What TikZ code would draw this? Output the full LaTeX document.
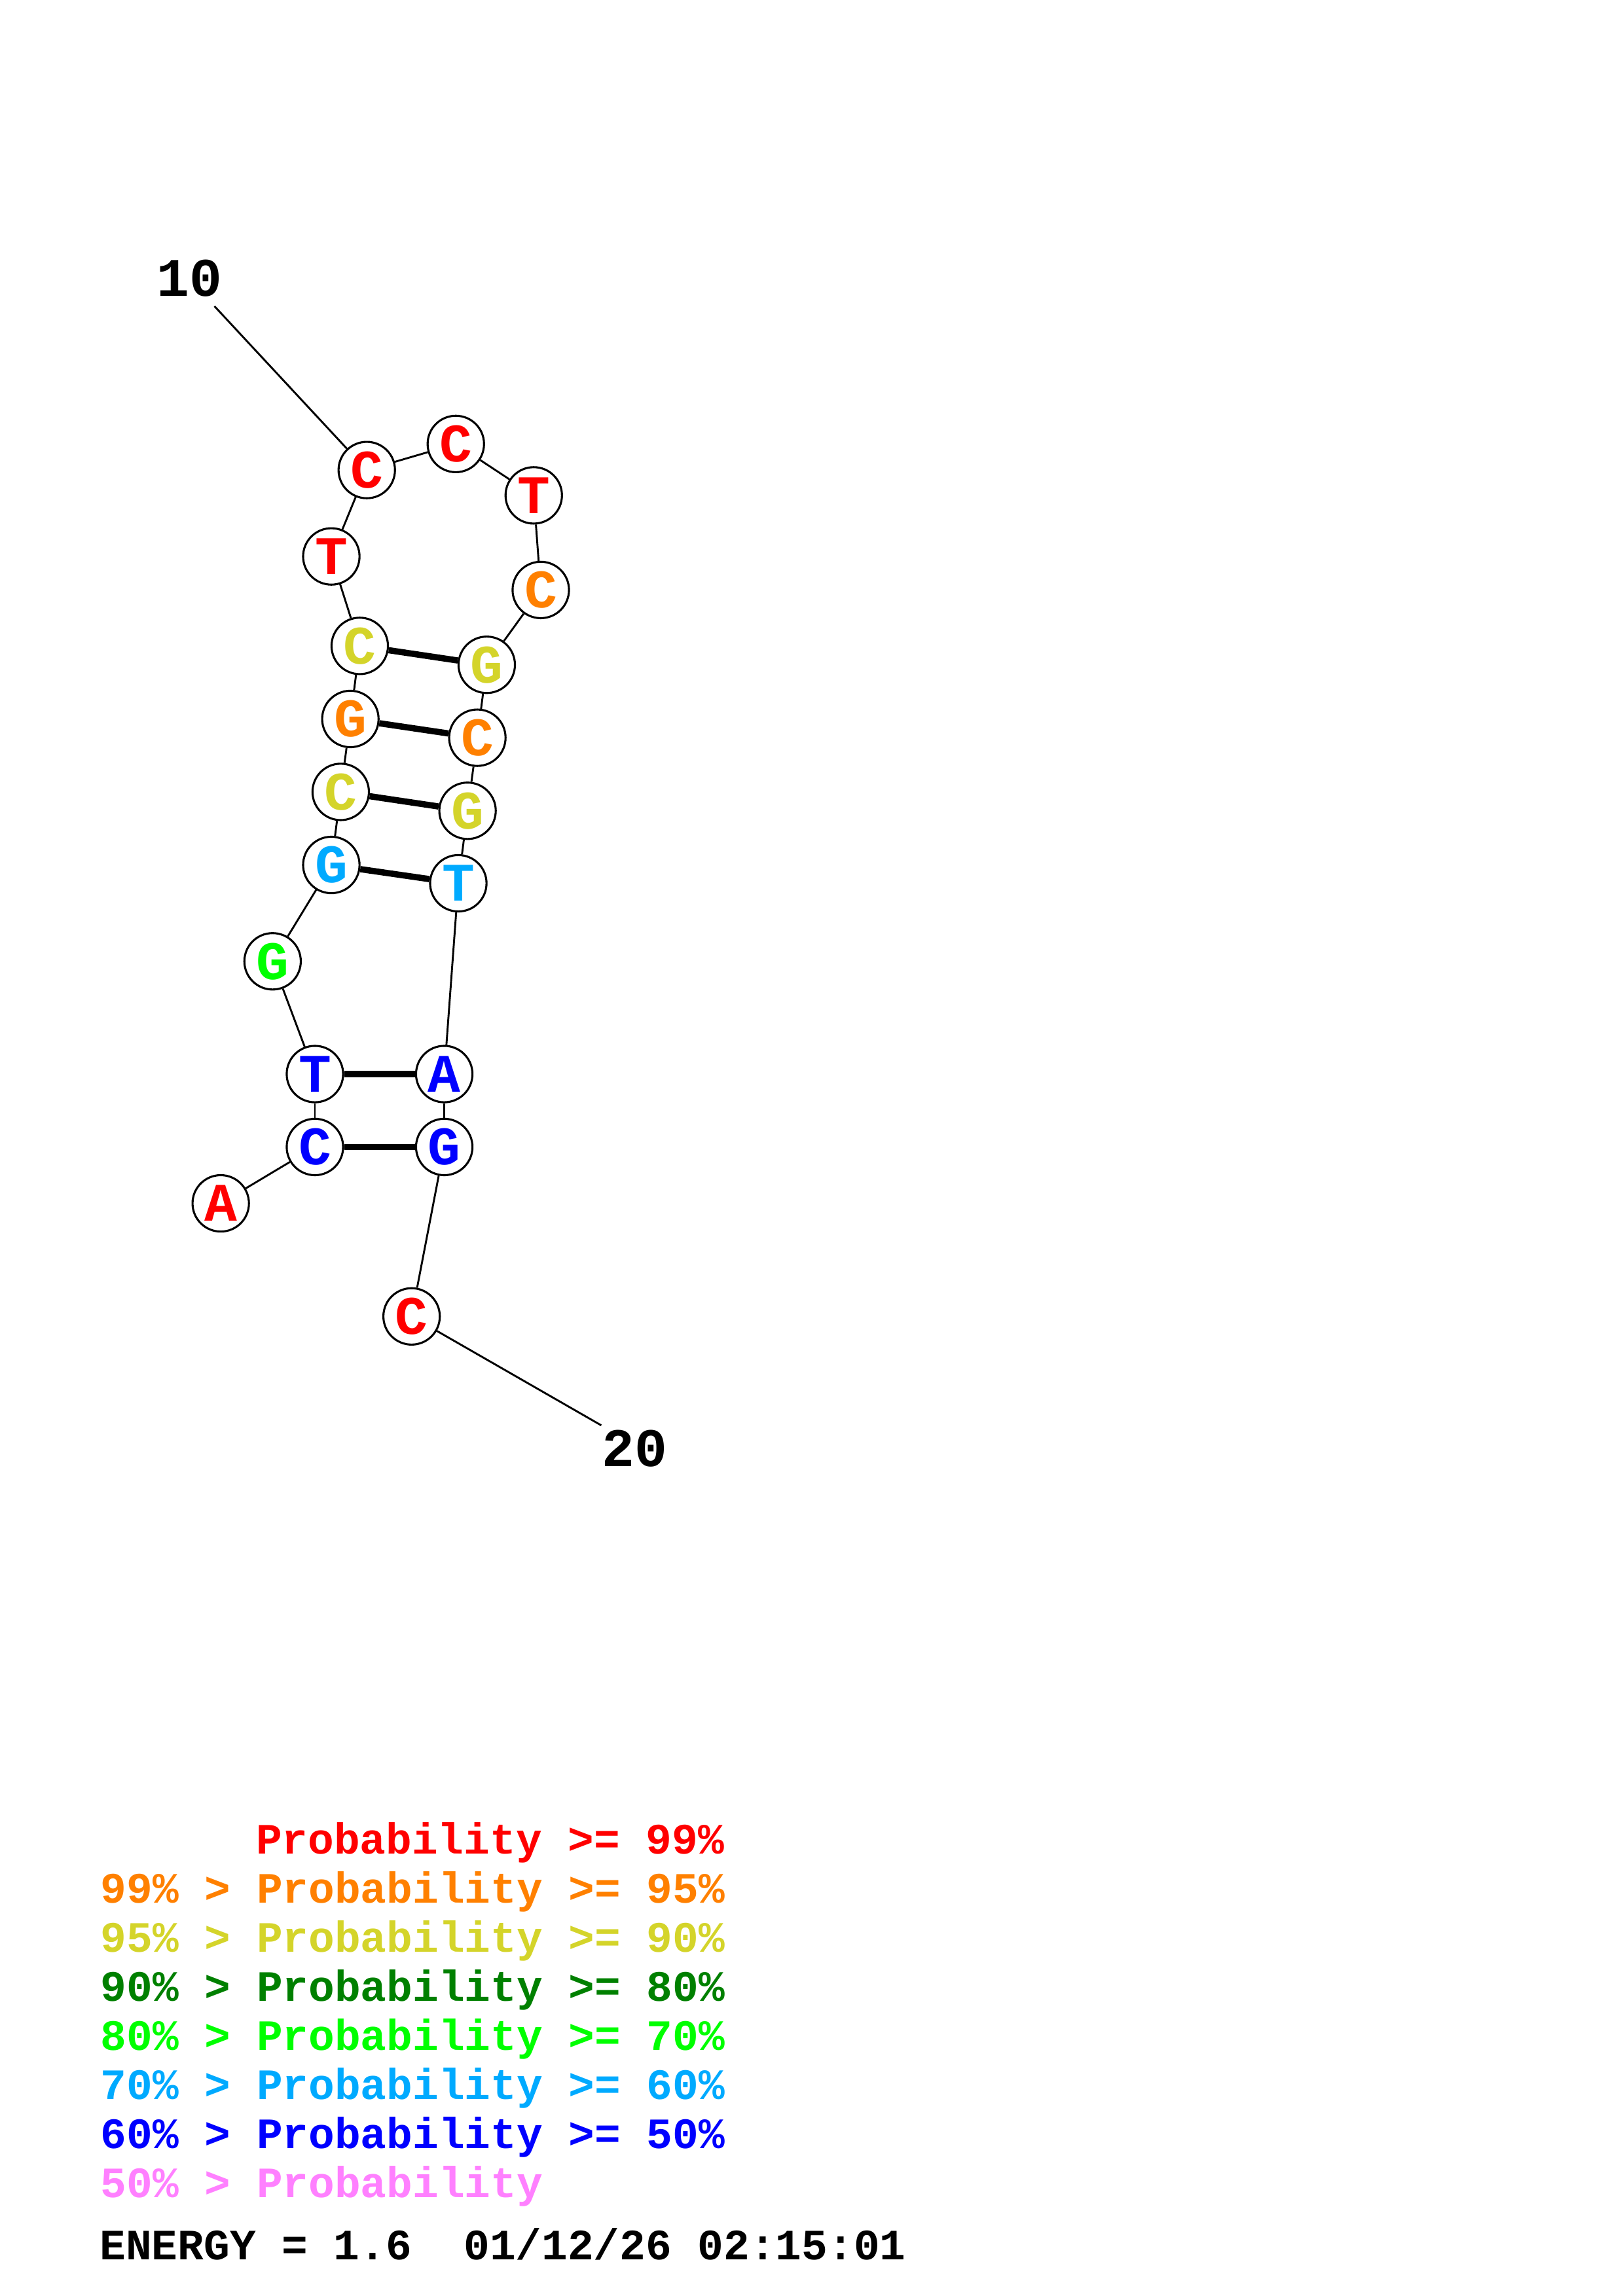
\documentclass[tikz,border=0pt]{standalone}
\usepackage{fontspec}
\usepackage{xcolor}
\newfontfamily\monofont{Liberation Mono}
\definecolor{pnine}{HTML}{FF0000}
\definecolor{pfive}{HTML}{FF8000}
\definecolor{pninety}{HTML}{D4D42A}
\definecolor{peighty}{HTML}{008000}
\definecolor{pseventy}{HTML}{00FF00}
\definecolor{psixty}{HTML}{00AAFF}
\definecolor{pfifty}{HTML}{0000FF}
\definecolor{plow}{HTML}{FF80FF}

\begin{document}
\begin{tikzpicture}[x=0.018953cm,y=-0.018953cm,
    base/.style={circle,draw,line width=0.75pt,fill=white,minimum size=0.73cm,inner sep=0pt,
                 font=\monofont\bfseries\fontsize{20}{20}\selectfont},
    backbone/.style={line width=0.7pt},
    pair/.style={line width=2.3pt},
    numlab/.style={font=\monofont\bfseries\fontsize{20}{20}\selectfont,inner sep=0pt},
    legend/.style={anchor=base west,inner sep=0pt,font=\monofont\bfseries\fontsize{15.95}{16}\selectfont}]

    \useasboundingbox (0,0) rectangle (1108,1568);

    % nucleotides
    \node[base,text=pnine]    (n1)  at (150.7,821.8) {A};
    \node[base,text=pfifty]   (n2)  at (215,783.3) {C};
    \node[base,text=pfifty]   (n3)  at (215,733.5) {T};
    \node[base,text=pseventy] (n4)  at (186.1,656.5) {G};
    \node[base,text=psixty]   (n5)  at (226.2,590.7) {G};
    \node[base,text=pninety]  (n6)  at (232.6,540.8) {C};
    \node[base,text=pfive]    (n7)  at (239.2,491) {G};
    \node[base,text=pninety]  (n8)  at (245.6,441.1) {C};
    \node[base,text=pnine]    (n9)  at (226.2,380) {T};
    \node[base,text=pnine]    (n10) at (250.4,321) {C};
    \node[base,text=pnine]    (n11) at (311.2,303.2) {C};
    \node[base,text=pnine]    (n12) at (364.4,338.3) {T};
    \node[base,text=pfive]    (n13) at (369.2,402.9) {C};
    \node[base,text=pninety]  (n14) at (332.3,454) {G};
    \node[base,text=pfive]    (n15) at (325.9,503.8) {C};
    \node[base,text=pninety]  (n16) at (319.2,553.7) {G};
    \node[base,text=psixty]   (n17) at (312.9,603.2) {T};
    \node[base,text=pfifty]   (n18) at (303.3,733.5) {A};
    \node[base,text=pfifty]   (n19) at (303.3,783.3) {G};
    \node[base,text=pnine]    (n20) at (281,899) {C};

    \node[numlab] (lab10) at (129.2,190) {10};
    \node[numlab] (lab20) at (433.3,989) {20};
    \coordinate (e10) at (146.4,209.1);
    \coordinate (e20) at (410.5,973.4);

    \draw[backbone] (n1) -- (n2);
    \draw[backbone] (n2) -- (n3);
    \draw[backbone] (n3) -- (n4);
    \draw[backbone] (n4) -- (n5);
    \draw[backbone] (n5) -- (n6);
    \draw[backbone] (n6) -- (n7);
    \draw[backbone] (n7) -- (n8);
    \draw[backbone] (n8) -- (n9);
    \draw[backbone] (n9) -- (n10);
    \draw[backbone] (n10) -- (n11);
    \draw[backbone] (n11) -- (n12);
    \draw[backbone] (n12) -- (n13);
    \draw[backbone] (n13) -- (n14);
    \draw[backbone] (n14) -- (n15);
    \draw[backbone] (n15) -- (n16);
    \draw[backbone] (n16) -- (n17);
    \draw[backbone] (n17) -- (n18);
    \draw[backbone] (n18) -- (n19);
    \draw[backbone] (n19) -- (n20);
    \draw[backbone] (e10) -- (n10);
    \draw[backbone] (n20) -- (e20);

    % base pairs
    \draw[pair] (n2) -- (n19);
    \draw[pair] (n3) -- (n18);
    \draw[pair] (n5) -- (n17);
    \draw[pair] (n6) -- (n16);
    \draw[pair] (n7) -- (n15);
    \draw[pair] (n8) -- (n14);

    % legend
    \node[legend,text=pnine]    (leg1) at (174.4,1266) {Probability >= 99\%};
    \node[legend,text=pfive]    (leg2) at (68.4,1299.5) {99\% > Probability >= 95\%};
    \node[legend,text=pninety]  (leg3) at (68.4,1333) {95\% > Probability >= 90\%};
    \node[legend,text=peighty]  (leg4) at (68.4,1366.5) {90\% > Probability >= 80\%};
    \node[legend,text=pseventy] (leg5) at (68.4,1400) {80\% > Probability >= 70\%};
    \node[legend,text=psixty]   (leg6) at (68.4,1433.5) {70\% > Probability >= 60\%};
    \node[legend,text=pfifty]   (leg7) at (68.4,1467) {60\% > Probability >= 50\%};
    \node[legend,text=plow]     (leg8) at (68.4,1500.5) {50\% > Probability};
    \node[legend]               (energy) at (67.8,1543) {ENERGY = 1.6\ \ 01/12/26 02:15:01};
\end{tikzpicture}
\end{document}
